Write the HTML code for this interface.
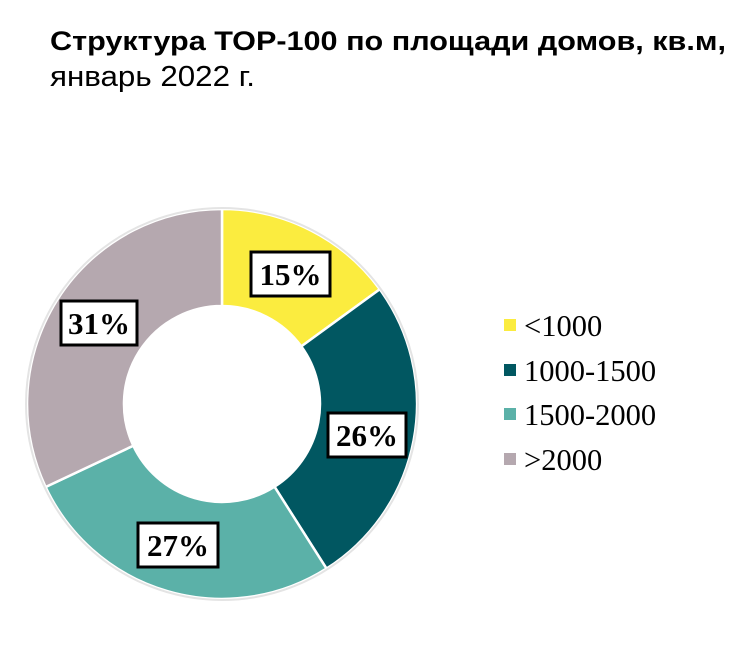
<!DOCTYPE html>
<html><head><meta charset="utf-8"><style>
body{margin:0;background:#fff;width:752px;height:647px;overflow:hidden;}
</style></head><body>
<svg width="752" height="647" xmlns="http://www.w3.org/2000/svg">
<text x="50" y="50" font-family="Liberation Sans, sans-serif" font-weight="bold" font-size="27" fill="#000" textLength="676" lengthAdjust="spacingAndGlyphs">Структура ТОР-100 по площади домов, кв.м,</text>
<text x="50" y="86" font-family="Liberation Sans, sans-serif" font-size="29" fill="#000" textLength="205" lengthAdjust="spacingAndGlyphs">январь 2022 г.</text>
<g stroke="#fff" stroke-width="2.5" stroke-linejoin="round">
<path d="M222,209 A195,195 0 0 1 379.8,289.3 L301.3,346.4 A98,98 0 0 0 222,306 Z" fill="#FBEC3F"/>
<path d="M379.8,289.3 A195,195 0 0 1 326.5,568.6 L274.5,486.7 A98,98 0 0 0 301.3,346.4 Z" fill="#015761"/>
<path d="M326.5,568.6 A195,195 0 0 1 45.6,487 L133.3,445.7 A98,98 0 0 0 274.5,486.7 Z" fill="#5BB1A8"/>
<path d="M45.6,487 A195,195 0 0 1 222,209 L222,306 A98,98 0 0 0 133.3,445.7 Z" fill="#B5A8AF"/>
</g>
<circle cx="222" cy="404" r="196" fill="none" stroke="#e4e4e4" stroke-width="2"/>
<g font-family="Liberation Serif, serif" font-weight="bold" font-size="31" text-anchor="middle">
<rect x="251" y="252" width="79" height="44" fill="#fff" stroke="#000" stroke-width="3"/>
<text x="290.5" y="285">15%</text>
<rect x="328" y="413" width="78" height="44" fill="#fff" stroke="#000" stroke-width="3"/>
<text x="367" y="446">26%</text>
<rect x="138" y="523" width="80" height="44" fill="#fff" stroke="#000" stroke-width="3"/>
<text x="178" y="556">27%</text>
<rect x="61" y="301" width="76" height="44" fill="#fff" stroke="#000" stroke-width="3"/>
<text x="99" y="334">31%</text>
</g>
<g font-family="Liberation Serif, serif" font-size="30.5" fill="#000">
<rect x="504" y="319" width="12" height="12" fill="#FBEC3F"/>
<text x="524" y="336">&lt;1000</text>
<rect x="504" y="364" width="12" height="12" fill="#015761"/>
<text x="524" y="381">1000-1500</text>
<rect x="504" y="408" width="12" height="12" fill="#5BB1A8"/>
<text x="524" y="425">1500-2000</text>
<rect x="504" y="453" width="12" height="12" fill="#B5A8AF"/>
<text x="524" y="470">&gt;2000</text>
</g>
</svg>
</body></html>
